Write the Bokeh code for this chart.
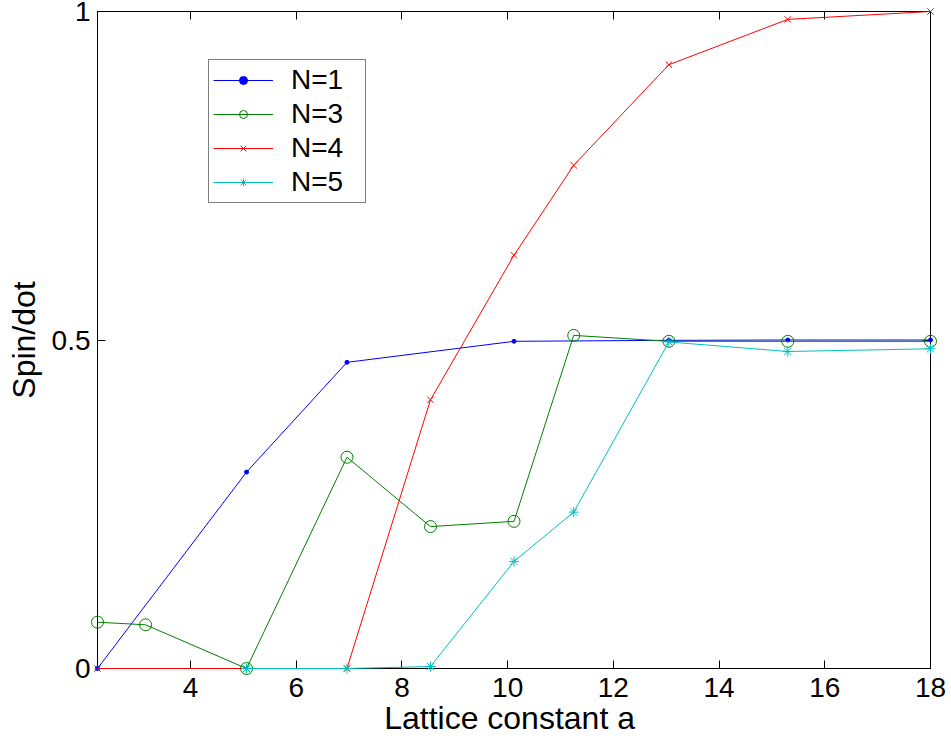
from bokeh.plotting import figure
from bokeh.models import (Range1d, LinearAxis, FixedTicker, Legend, LegendItem,
                          CustomJSTickFormatter)
from bokeh.embed import file_html
from bokeh.resources import INLINE

# ---- data ----
x_n1 = [2.24, 5.06, 6.96, 10.12, 13.05, 15.3, 18.0]
y_n1 = [0.0, 0.299, 0.466, 0.498, 0.4995, 0.5, 0.5]

x_n3 = [2.24, 3.15, 5.06, 6.96, 8.54, 10.12, 11.25, 13.05, 15.3, 18.0]
y_n3 = [0.0705, 0.0665, 0.0, 0.3216, 0.216, 0.224, 0.507, 0.498, 0.498, 0.498]

x_n4 = [2.24, 5.06, 6.96, 8.54, 10.12, 11.25, 13.05, 15.3, 18.0]
y_n4 = [0.0, 0.0, 0.0, 0.409, 0.629, 0.766, 0.919, 0.988, 1.0]

x_n5 = [5.06, 6.96, 8.54, 10.12, 11.25, 13.05, 15.3, 18.0]
y_n5 = [0.0, 0.0, 0.003, 0.163, 0.238, 0.497, 0.4825, 0.4866]

series_labels = ["N=1", "N=3", "N=4", "N=5"]
x_ticks = [4, 6, 8, 10, 12, 14, 16, 18]
y_ticks = [0, 0.5, 1]
y_tick_labels = ["0", "0.5", "1"]
x_title = "Lattice constant  a"
y_title = "Spin/dot"

XMIN, XMAX = 2.24, 18.0
YMIN, YMAX = 0.0, 1.0

FONT = "Liberation Sans"

p = figure(width=948, height=740, output_backend="svg", toolbar_location=None,
           x_range=Range1d(XMIN, XMAX), y_range=Range1d(YMIN, YMAX),
           min_border_left=97, min_border_right=18, min_border_top=11,
           min_border_bottom=72)
p.background_fill_color = "white"
p.border_fill_color = "white"
p.outline_line_color = "black"
p.outline_line_width = 1
p.xgrid.visible = False
p.ygrid.visible = False

xa = p.xaxis[0]
xa.ticker = FixedTicker(ticks=x_ticks)
xa.major_tick_in = 8
xa.major_tick_out = 0
xa.minor_tick_in = 0
xa.minor_tick_out = 0
xa.major_label_standoff = 9
xa.major_label_text_font = FONT
xa.major_label_text_font_size = "28px"
xa.major_label_text_color = "black"
xa.axis_line_color = "black"
xa.major_tick_line_color = "black"
xa.axis_label = x_title
xa.axis_label_text_font = FONT
xa.axis_label_text_font_size = "32px"
xa.axis_label_text_font_style = "normal"
xa.axis_label_text_color = "black"
xa.axis_label_standoff = 0

ya = p.yaxis[0]
ya.ticker = FixedTicker(ticks=y_ticks)
ya.major_label_overrides = {t: s for t, s in zip(y_ticks, y_tick_labels)}
ya.major_tick_in = 8
ya.major_tick_out = 0
ya.minor_tick_in = 0
ya.minor_tick_out = 0
ya.major_label_standoff = 7
ya.major_label_text_font = FONT
ya.major_label_text_font_size = "28px"
ya.major_label_text_color = "black"
ya.axis_line_color = "black"
ya.major_tick_line_color = "black"
ya.axis_label = y_title
ya.axis_label_text_font = FONT
ya.axis_label_text_font_size = "32px"
ya.axis_label_text_font_style = "normal"
ya.axis_label_text_color = "black"
ya.axis_label_standoff = 7

blank = CustomJSTickFormatter(code="return ''")
top = LinearAxis(ticker=FixedTicker(ticks=x_ticks), formatter=blank,
                 major_label_text_font_size="1px",
                 major_label_standoff=0, major_tick_in=8, major_tick_out=0,
                 minor_tick_in=0, minor_tick_out=0, axis_line_color="black",
                 major_tick_line_color="black")
p.add_layout(top, "above")
right = LinearAxis(ticker=FixedTicker(ticks=y_ticks), formatter=blank,
                   major_label_text_font_size="1px",
                   major_label_standoff=0, major_tick_in=8, major_tick_out=0,
                   minor_tick_in=0, minor_tick_out=0, axis_line_color="black",
                   major_tick_line_color="black")
p.add_layout(right, "right")

blue, green, red, cyan = "#0000ff", "#008000", "#ff0000", "#00bfbf"
LVL = "overlay"

l1 = p.line(x_n1, y_n1, line_color=blue, line_width=1, level=LVL)
m1 = p.scatter(x_n1, y_n1, marker="circle", size=4, fill_color=blue, line_color=blue, level=LVL)
l3 = p.line(x_n3, y_n3, line_color=green, line_width=1, level=LVL)
m3 = p.scatter(x_n3, y_n3, marker="circle", size=12, fill_color=None, line_color=green,
               line_width=1, level=LVL)
l4 = p.line(x_n4, y_n4, line_color=red, line_width=1, level=LVL)
m4 = p.scatter(x_n4, y_n4, marker="x", size=9, line_color=red, line_width=1, level=LVL)
l5 = p.line(x_n5, y_n5, line_color=cyan, line_width=1, level=LVL)
m5 = p.scatter(x_n5, y_n5, marker="asterisk", size=10, line_color=cyan, line_width=1, level=LVL)

legend = Legend(items=[LegendItem(label=series_labels[0], renderers=[l1, m1]),
                       LegendItem(label=series_labels[1], renderers=[l3, m3]),
                       LegendItem(label=series_labels[2], renderers=[l4, m4]),
                       LegendItem(label=series_labels[3], renderers=[l5, m5])],
                location=(111, 465), margin=0, padding=4, spacing=2,
                glyph_width=60, glyph_height=20, label_standoff=18, label_width=70,
                label_text_font=FONT, label_text_font_size="28px",
                label_text_color="black",
                border_line_color="black", border_line_width=1,
                background_fill_color="white", background_fill_alpha=1)
p.add_layout(legend)

open("out.html", "w").write(file_html(p, INLINE))
